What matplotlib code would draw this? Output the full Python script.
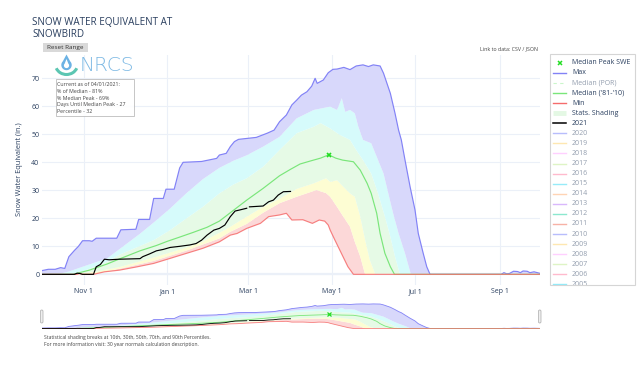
import numpy as np
import pandas as pd
import matplotlib
matplotlib.use("Agg")
import matplotlib.pyplot as plt
import matplotlib.dates as mdates
from matplotlib.patches import Rectangle, FancyBboxPatch, Polygon, Arc

W, H = 640, 373
FONT = ['Open Sans', 'DejaVu Sans']
TXT = '#2a3f5f'
plt.rcParams['font.family'] = FONT

# ---------------- data (days since start of water year) ----------------
wy_start = '2020-10-01'
tick_dates = ['2020-11-01', '2021-01-01', '2021-03-01', '2021-05-01', '2021-07-01', '2021-09-01']
tick_labels = ['Nov 1', 'Jan 1', 'Mar 1', 'May 1', 'Jul 1', 'Sep 1']
y_ticks = [0, 10, 20, 30, 40, 50, 60, 70]

max_days = [0, 5, 10, 14, 17, 20, 24, 27, 30, 35, 37, 40, 55, 58, 69, 71, 79, 82, 89, 91, 97, 101,
            103.5, 117, 122, 128, 130, 135, 138, 141, 144, 157, 165, 170, 174, 179, 183, 186.5, 190,
            194, 197.5, 200, 201.5, 206, 209.6, 213, 216, 221, 225.5, 230, 235, 239, 242.5, 247.5,
            250, 255, 258.4, 261, 263, 265.7, 269.4, 273, 275.4, 279, 281.6, 284, 336, 338, 340,
            342, 345, 348, 350, 352, 355, 357, 360, 364]
max_vals = [1.3, 1.8, 1.8, 2.4, 2.1, 6.3, 8.5, 10, 12, 12, 11.8, 12.9, 12.9, 15.9, 16.1, 19.6, 19.6,
            27.1, 27.1, 30.4, 30.4, 38, 40, 40.3, 40.8, 41.4, 42.6, 43.2, 45.6, 47.4, 48.2, 48.9,
            50.4, 51.5, 54.5, 56.9, 60.5, 62.2, 64, 65.2, 67.2, 70, 68.2, 69.4, 72, 73.2, 73.3,
            73.9, 73.1, 74.4, 74.8, 74.2, 74.8, 74.4, 71.8, 64.6, 57.5, 51.5, 48, 40.8, 31.3, 23,
            14.6, 7.5, 2.7, 0, 0, 0.6, 0.2, 0.3, 1.1, 1.0, 0.6, 1.2, 1.1, 0.6, 0.9, 0.4]

med_days = [0, 23, 35, 48, 57, 72, 84, 92, 101, 111, 121, 130, 138, 150, 162, 174, 182, 189, 196,
            204, 210, 215, 220, 228, 233, 238, 241, 245, 247.5, 251, 255, 258, 364]
med_vals = [0, 0, 1.5, 3.7, 5.5, 8.4, 10.3, 11.8, 13.3, 15, 16.8, 19, 22, 26.5, 30.7, 35.2, 37.5,
            39.4, 40.4, 41.5, 42.7, 41.5, 40.8, 40.2, 37.2, 32.5, 28.9, 21.8, 14.6, 7.5, 2.7, 0, 0]

peak_day = [210]
peak_val = [42.7]

min_days = [0, 26, 28, 30, 38, 46, 57, 70, 82, 94, 106, 118, 130, 138, 143, 150, 160, 166, 174,
            179, 183, 191, 198, 203, 207, 209.6, 211, 214.5, 218, 221.6, 224, 228, 364]
min_vals = [0, 0, 0.4, 0, 0, 0.9, 1.5, 2.7, 3.9, 5.7, 7.5, 9.3, 11.6, 14, 14.6, 16.4, 18.2, 20.6,
            21.2, 21.8, 19.4, 19.5, 18.2, 19.4, 19, 17.6, 15.8, 12.2, 8.7, 5.1, 2.7, 0, 0]

p10_days = [0, 36, 57, 82, 106, 130, 138, 150, 162, 174, 186.5, 201, 208, 211, 216, 220.6, 225.5,
            229, 233, 236.5, 364]
p10_vals = [0, 0, 2.0, 4.8, 8.5, 12.8, 15.2, 18, 22, 25.4, 27.7, 30.1, 29, 27.7, 24.1, 20.6, 17,
            11.6, 6.3, 0, 0]

p30_days = [0, 23, 40, 57, 82, 106, 118, 130, 138, 150, 162, 174, 186.5, 199, 208, 211, 216,
            220.6, 225.5, 229, 233, 236.6, 240, 244, 364]
p30_vals = [0, 0, 1.0, 2.6, 6.0, 9.6, 11.8, 14.8, 17, 20.6, 24.1, 27.0, 30.5, 32.5, 34.3, 33, 33.6,
            31.3, 28.9, 27.7, 20.6, 12.2, 5.1, 0, 0]

p70_days = [0, 20, 30, 48, 57, 82, 94, 106, 118, 130, 140, 150, 162, 174, 186.5, 199, 204, 211,
            218, 225.5, 230, 235, 241, 246, 251, 255, 258.4, 262, 364]
p70_vals = [0, 0, 1.0, 4.5, 7.0, 12.2, 15.8, 20, 24.1, 28.9, 32, 34.3, 38.4, 44.4, 50.4, 52.7, 54,
            52.1, 49.8, 48, 44.4, 40.8, 36, 28.9, 20.6, 13.4, 6.3, 0, 0]

p90_days = [0, 14, 20, 30, 48, 57, 72, 82, 94, 106, 118, 130, 140, 150, 162, 174, 186.5, 199, 211,
            216, 219.5, 222, 225.5, 229, 231.6, 235, 241, 245, 250, 253.5, 257, 261, 265.7, 270, 364]
p90_vals = [0, 0.3, 1.0, 2.7, 5.7, 9.0, 14.5, 18.5, 23.5, 29, 34, 38, 40.5, 42.5, 45.6, 49.1, 55.7,
            58.7, 59.9, 58.7, 62.9, 58, 58.7, 57.5, 52.7, 48, 46.8, 42, 36, 28.9, 21.8, 14.6, 7.5,
            0, 0]

wy2021_days = [0, 24, 26, 28, 30, 38, 40, 43, 46, 49.5, 57, 72, 74, 79, 84, 89, 94, 101, 108.5, 113,
               117, 121, 126, 130, 134, 138, 141.5, 145, 150, 151, 152, 162, 166, 169.5, 173,
               176.8, 182]
wy2021_vals = [0, 0, 0.4, 0.3, 0, 0, 2.7, 3.5, 5.4, 5.2, 5.4, 5.6, 6.3, 7.3, 8.4, 8.9, 9.6, 10,
               10.5, 11, 12.2, 14, 15.8, 16.4, 17.6, 20.6, 22.6, 23, 23.6, np.nan, 24.1, 24.4, 25.9,
               26.5, 28.3, 29.5, 29.6]

legend_labels = ["Median Peak SWE", "Max", "Median (POR)", "Median ('81-'10)", "Min",
                 "Stats. Shading", "2021"]
hidden_years = ['2020', '2019', '2018', '2017', '2016', '2015', '2014', '2013', '2012', '2011',
                '2010', '2009', '2008', '2007', '2006', '2005']
hidden_colors = ['#636efa', '#fecb52', '#ff97ff', '#b6e880', '#ff6692', '#19d3f3', '#ffa15a',
                 '#ab63fa', '#00cc96', '#ef553b', '#636efa', '#fecb52', '#ff97ff', '#b6e880',
                 '#ff6692', '#19d3f3']

info_lines = ["Current as of 04/01/2021:", "% of Median - 81%", "% Median Peak - 69%",
              "Days Until Median Peak - 27", "Percentile - 32"]

# ---------------- styles ----------------
C_MAX, C_MED, C_MIN = '#8282f6', '#7ae67a', '#f56c6c'
F_RED, F_YEL, F_GRN, F_CYN, F_PUR = '#fcd8d8', '#fdfdd3', '#e6fae6', '#d6fbfb', '#d8d8fb'
GRID = '#ebf0f8'
C_PEAK = '#22dd22'


def to_x(days):
    d = pd.Timestamp(wy_start) + pd.to_timedelta(np.asarray(days, float), unit='D')
    return mdates.date2num(d.to_pydatetime())


def band(ax, da, va, db, vb, color):
    xs = np.concatenate([to_x(da), to_x(db)[::-1]])
    ys = np.concatenate([np.asarray(va, float), np.asarray(vb, float)[::-1]])
    ax.fill(xs, ys, color=color, lw=0, zorder=1)


def draw(ax, lw, ms, mew):
    band(ax, min_days, min_vals, p10_days, p10_vals, F_RED)
    band(ax, p10_days, p10_vals, p30_days, p30_vals, F_YEL)
    band(ax, p30_days, p30_vals, p70_days, p70_vals, F_GRN)
    band(ax, p70_days, p70_vals, p90_days, p90_vals, F_CYN)
    band(ax, p90_days, p90_vals, max_days, max_vals, F_PUR)
    ax.plot(to_x(max_days), max_vals, color=C_MAX, lw=lw, zorder=3)
    ax.plot(to_x(med_days), med_vals, color=C_MED, lw=lw, zorder=3)
    ax.plot(to_x(min_days), min_vals, color=C_MIN, lw=lw, zorder=3, alpha=0.85)
    ax.plot(to_x(wy2021_days), wy2021_vals, color='black', lw=lw, zorder=4)
    ax.plot(to_x(peak_day), peak_val, ls='none', marker='x', ms=ms, mew=mew, color=C_PEAK,
            zorder=5)
    ax.set_xlim(to_x([0, 364]))
    ax.set_ylim(-3.7, 78.5)


fig = plt.figure(figsize=(W / 100, H / 100), dpi=100)
fig.patch.set_facecolor('white')

# main chart
ax = fig.add_axes([41.5 / W, 1 - 284.7 / H, 498 / W, (284.7 - 54.5) / H])
draw(ax, 0.85, 3.2, 1.2)
for s in ax.spines.values():
    s.set_visible(False)
ax.set_xticks(to_x([(pd.Timestamp(t) - pd.Timestamp(wy_start)).days for t in tick_dates]))
ax.set_xticklabels(tick_labels)
ax.set_yticks(y_ticks)
ax.tick_params(length=0, labelsize=5, labelcolor=TXT, pad=2.5)
ax.tick_params(axis='y', pad=1.5)
ax.grid(True, color=GRID, lw=0.8, zorder=0)
ax.set_axisbelow(True)
ax.axhline(0, color=GRID, lw=1.6, zorder=0.5)
ax.set_ylabel('Snow Water Equivalent (in.)', fontsize=5.3, color=TXT, labelpad=6)

# range slider
rs = fig.add_axes([41.5 / W, 1 - 329.7 / H, 498 / W, 27 / H])
draw(rs, 0.6, 2.2, 0.9)
rs.axis('off')

# overlay for decorations (pixel coordinates)
ov = fig.add_axes([0, 0, 1, 1], zorder=5)
ov.set_xlim(0, W)
ov.set_ylim(H, 0)
ov.axis('off')
ov.patch.set_alpha(0)

ov.text(32, 22.5, 'SNOW WATER EQUIVALENT AT', fontsize=7.1, color=TXT, va='center', ha='left')
ov.text(32, 34.5, 'SNOWBIRD', fontsize=7.1, color=TXT, va='center', ha='left')

ov.add_patch(Rectangle((42.7, 42.5), 45.5, 9.5, facecolor='#d9d9d9', edgecolor='none'))
ov.text(65.4, 47.3, 'Reset Range', fontsize=4.6, color='#333333', ha='center', va='center')

ov.text(538.5, 48.5, 'Link to data: CSV / JSON', fontsize=3.8, color='#444444', ha='right',
        va='center')

# NRCS logo
drop = [(66.5, 54.5)] + [(66.5 + 5.2 * np.cos(a), 65.0 - 5.2 * np.sin(a)) for a in
                         np.linspace(0.25 * np.pi, -1.25 * np.pi, 40)]
ov.add_patch(Polygon(drop, closed=True, facecolor='#6cb2e4', edgecolor='none'))
ov.add_patch(Polygon([(66.5, 59), ] + [(66.5 + 2.6 * np.cos(a), 65.5 - 2.6 * np.sin(a)) for a in
                                       np.linspace(0.25 * np.pi, -1.25 * np.pi, 30)],
                     closed=True, facecolor='white', edgecolor='none'))
ov.add_patch(Arc((66.5, 64.5), 22, 20, theta1=20, theta2=160, color='#5cc6b2', lw=2.2))
ov.text(80, 65.5, 'NRCS', fontsize=14.5, color='#7db9e4', ha='left', va='center',
        family=['DejaVu Sans'], fontweight='light')

# info box
ov.add_patch(Rectangle((55.5, 79), 78, 37, facecolor='white', edgecolor='#b5b5b5', lw=0.6,
                       alpha=0.9))
for i, line in enumerate(info_lines):
    ov.text(57, 84.3 + 6.85 * i, line, fontsize=3.75, color='#444444', ha='left', va='center')

# footer
ov.text(44, 337.5, 'Statistical shading breaks at 10th, 30th, 50th, 70th, and 90th Percentiles.',
        fontsize=3.6, color='#444444', ha='left', va='center')
ov.text(44, 344.5, 'For more information visit: 30 year normals calculation description.',
        fontsize=3.6, color='#444444', ha='left', va='center')

# range slider grabbers
for gx in (40.5, 538.5):
    ov.add_patch(FancyBboxPatch((gx, 310), 2.5, 13, boxstyle='round,pad=0,rounding_size=1.2',
                                facecolor='#eeeeee', edgecolor='#aaaaaa', lw=0.5))

# legend
ov.add_patch(Rectangle((550, 54), 85, 231, facecolor='white', edgecolor='#d5d5d5', lw=0.8,
                       zorder=0))
lg = fig.add_axes([550.5 / W, 1 - 284.5 / H, 84 / W, 230 / H], zorder=6)
lg.set_xlim(550.5, 634.5)
lg.set_ylim(284.5, 54.5)
lg.axis('off')
lg.patch.set_alpha(0)

labels = legend_labels + hidden_years
for i, lab in enumerate(labels):
    y = 62.7 + 10.08 * i
    faded = lab in ("Median (POR)",) or lab in hidden_years
    if lab == "Median Peak SWE":
        lg.plot([560], [y], ls='none', marker='x', ms=2.8, mew=1.1, color=C_PEAK)
    elif lab == "Max":
        lg.plot([553, 566], [y, y], color=C_MAX, lw=1)
    elif lab == "Median (POR)":
        lg.plot([553, 566], [y, y], color='#a8f0a8', lw=0.8, ls=(0, (3, 3)), alpha=0.6)
    elif lab == "Median ('81-'10)":
        lg.plot([553, 566], [y, y], color=C_MED, lw=1)
    elif lab == "Min":
        lg.plot([553, 566], [y, y], color=C_MIN, lw=1)
    elif lab == "Stats. Shading":
        lg.plot([553, 566], [y, y], color='#e4f8e4', lw=3.5, solid_capstyle='butt')
    elif lab == "2021":
        lg.plot([553, 566], [y, y], color='black', lw=1.1)
    else:
        c = hidden_colors[hidden_years.index(lab)]
        lg.plot([553, 566], [y, y], color=c, lw=1, alpha=0.45)
    lg.text(572, y, lab, fontsize=5, color=TXT, alpha=0.5 if faded else 1.0, ha='left',
            va='center', clip_on=True)

fig.savefig('out.png', dpi=100, facecolor='white')
